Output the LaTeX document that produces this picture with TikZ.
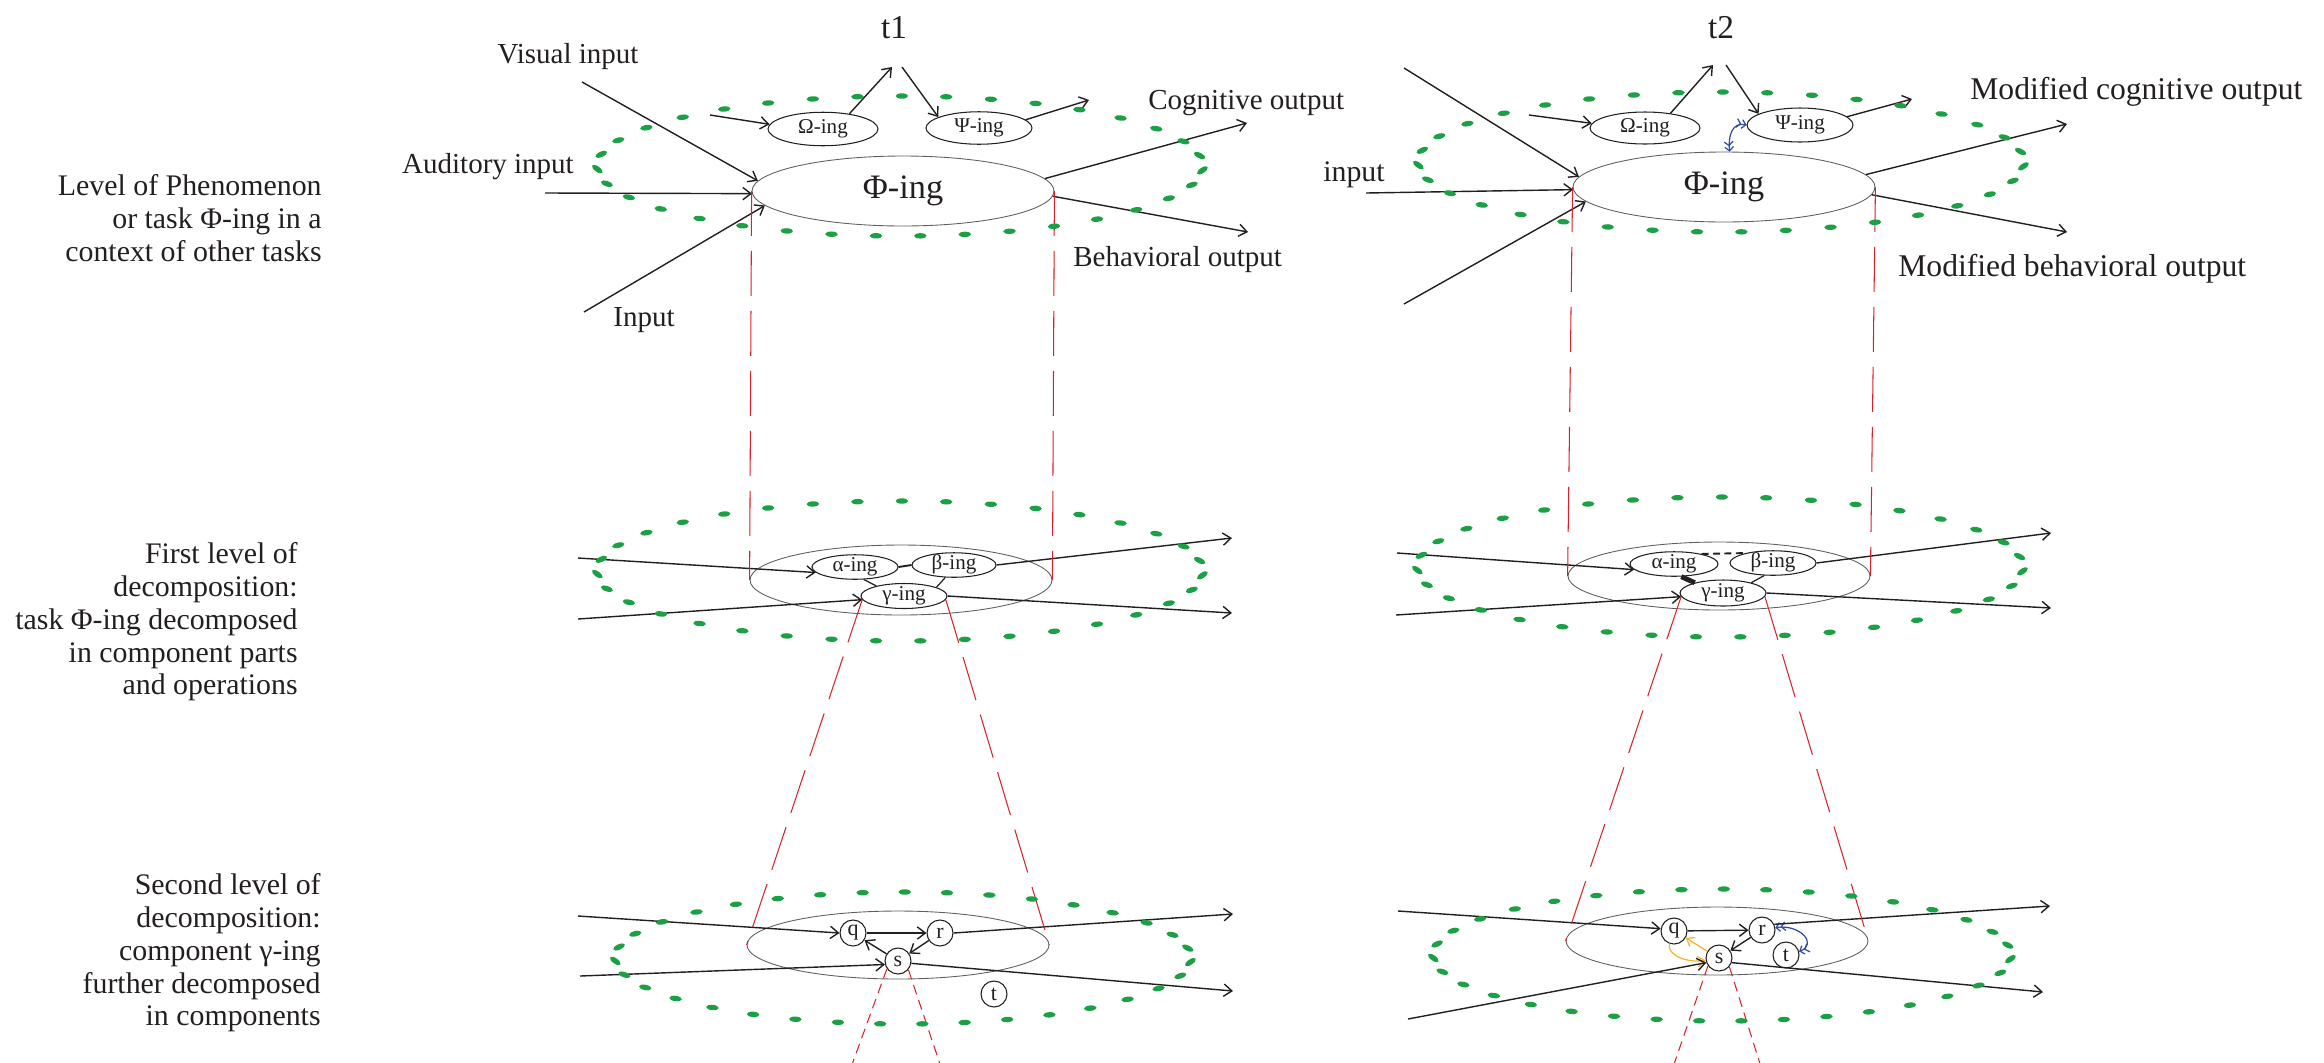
\documentclass[tikz,border=0pt]{standalone}
\usepackage{fontspec}
\setmainfont{Liberation Serif}
\usetikzlibrary{arrows.meta,shapes.geometric}

\definecolor{ink}{RGB}{35,31,32}
\definecolor{rimgray}{RGB}{95,95,95}
\definecolor{dotgreen}{RGB}{28,160,70}
\definecolor{cutred}{RGB}{214,35,45}
\definecolor{linkblue}{RGB}{45,75,170}
\definecolor{linkamber}{RGB}{247,178,52}

% ring of small green dashes around a level: centre (#1,#2), radii #3, #4
\newcommand\greenring[4]{%
  \foreach \k in {0,...,34}{%
    \pgfmathsetmacro\dotph{\k*360/35+3}%
    \pgfmathsetmacro\dotang{\dotph+5.3*sin(2*\dotph)}%
    \pgfmathsetmacro\dotrot{0.45*atan(#4*cos(\dotang)/(#3*sin(\dotang)+0.01))}%
    \fill[dotgreen, shift={({#1+#3*cos(\dotang)},{#2+#4*sin(\dotang)})}, rotate=\dotrot]
      (0,0) ellipse [x radius=6.3, y radius=2.7];
  }}

\begin{document}
\begin{tikzpicture}[x=0.02cm, y=-0.02cm,
  every node/.style={text=ink},
  side/.style={anchor=east, align=right, inner sep=0pt, font=\fontsize{17}{18.6}\selectfont},
  lbl/.style={inner sep=0pt, font=\fontsize{16.5}{18}\selectfont},
  biglbl/.style={inner sep=0pt, font=\fontsize{18}{20}\selectfont},
  timelbl/.style={inner sep=0pt, font=\fontsize{19}{20}\selectfont},
  task/.style={ellipse, draw=rimgray, line width=0.5pt, inner sep=0pt,
    minimum width=6.04cm, minimum height=1.4cm, font=\fontsize{19.5}{20}\selectfont},
  sub/.style={ellipse, draw=ink, line width=0.6pt, inner sep=0pt,
    text height=0.62em, text depth=0.14em, font=\fontsize{12}{12}\selectfont},
  wide/.style={sub, minimum width=2.2cm, minimum height=0.67cm},
  part/.style={sub, minimum width=1.72cm, minimum height=0.49cm},
  comp/.style={circle, draw=ink, line width=0.6pt, inner sep=0pt,
    minimum size=0.52cm, font=\fontsize{12.5}{12}\selectfont},
  arr/.style={draw=ink, line width=0.8pt, -{Straight Barb[length=4.6pt,width=7pt]}},
  link/.style={draw=ink, line width=0.7pt},
  cut/.style={draw=cutred, line width=0.6pt, dash pattern=on 0.9cm off 0.3cm},
  cutfine/.style={draw=cutred, line width=0.6pt, dash pattern=on 0.2cm off 0.12cm},
  bluearr/.style={draw=linkblue, line width=0.7pt,
    {Straight Barb[length=2.2pt,width=5pt]Straight Barb[length=2.2pt,width=5pt]}-{Straight Barb[length=2.2pt,width=5pt]Straight Barb[length=2.2pt,width=5pt]}},
  amberarr/.style={draw=linkamber, line width=0.7pt, -{Straight Barb[length=4pt,width=6pt]}}
]
\useasboundingbox (0,0) rectangle (2324,1062);

% ---------------- level captions ----------------
\node[side] (cap0) at (322,218) {Level of Phenomenon\\or task Φ-ing in a\\context of other tasks};
\node[side] (cap1) at (298,622) {First level of\\decomposition:\\task Φ-ing decomposed\\in component parts\\and operations};
\node[side] (cap2) at (321,953) {Second level of\\decomposition:\\component γ-ing\\further decomposed\\in components};

% =============== time t1 ===============
\node[timelbl] (timeA) at (894,28) {t1};
\node[task] (phiA) at (903,191) {Φ-ing};
\node[wide] (omA) at (823,129) {Ω-ing};
\node[wide, minimum width=2.12cm, minimum height=0.65cm] (psiA) at (979,128) {Ψ-ing};

\node[lbl] (visT) at (568,57) {Visual input};
\node[lbl] (audT) at (488,167) {Auditory input};
\node[lbl] (inpT) at (644,320) {Input};
\node[lbl, anchor=west] (cogT) at (1148,103) {Cognitive output};
\node[lbl, anchor=west] (behT) at (1073,260) {Behavioral output};

\coordinate (visA) at (582,82);
\coordinate (audA) at (545,193);
\coordinate (inA) at (584,312);
\coordinate (cogA) at (1247,123);
\coordinate (behA) at (1248,232);
\coordinate (tAin) at (892,67);
\coordinate (tAout) at (902,67);
\coordinate (omAin) at (710,115);
\coordinate (psiAout) at (1089,100);

\draw[arr] (visA) -- (phiA.176);
\draw[arr] (audA) -- (phiA.181);
\draw[arr] (inA) -- (phiA.186);
\draw[arr] (phiA.5) -- (cogA);
\draw[arr] (phiA.-2) -- (behA);
\draw[arr] (omA.30) -- (tAin);
\draw[arr] (tAout) -- (psiA.165);
\draw[arr] (omAin) -- (omA.175);
\draw[arr] (psiA.10) -- (psiAout);

% first level of decomposition, t1
\node[task, minimum height=1.4cm] (midA) at (901,580) {};
\node[part] (alA) at (855,567) {α-ing};
\node[part, minimum width=1.68cm] (beA) at (954,565) {β-ing};
\node[part, minimum height=0.5cm] (gaA) at (904,596) {γ-ing};

\coordinate (mAi1) at (578,558);
\coordinate (mAi2) at (578,619);
\coordinate (mAo1) at (1232,538);
\coordinate (mAo2) at (1232,613);

\draw[link, line width=1.1pt] (alA.east) -- (beA.west);
\draw[link] (alA.-55) -- (gaA.160);
\draw[link] (beA.-125) -- (gaA.15);
\draw[arr] (mAi1) -- (alA.188);
\draw[arr] (mAi2) -- (gaA.185);
\draw[arr] (beA.east) -- (mAo1);
\draw[arr] (gaA.east) -- (mAo2);

% second level of decomposition, t1
\node[task, minimum height=1.36cm] (botA) at (898,945) {};
\node[comp] (qA) at (853,933) {q};
\node[comp] (rA) at (940,933) {r};
\node[comp] (sA) at (898,961) {s};
\node[comp] (tcA) at (994,994) {t};

\coordinate (bAi1) at (578,916);
\coordinate (bAi2) at (580,976);
\coordinate (bAo1) at (1233,914);
\coordinate (bAo2) at (1233,991);
\coordinate (cutAl) at (850,1070);
\coordinate (cutAr) at (942,1070);

\draw[arr] (qA) -- (rA);
\draw[arr] (rA) -- (sA);
\draw[arr] (sA) -- (qA);
\draw[arr] (bAi1) -- (qA.west);
\draw[arr] (bAi2) -- (sA.195);
\draw[arr] (rA.east) -- (bAo1);
\draw[arr] (sA.-10) -- (bAo2);

% projection lines between levels, t1
\draw[cut] (phiA.west) -- (midA.west);
\draw[cut] (phiA.east) -- (midA.east);
\draw[cut] (gaA.185) -- (botA.west);
\draw[cut] (gaA.-5) -- (botA.east);
\draw[cutfine] (sA.215) -- (cutAl);
\draw[cutfine] (sA.-40) -- (cutAr);

% =============== time t2 ===============
\node[timelbl] (timeB) at (1721,28) {t2};
\node[task] (phiB) at (1724,187) {Φ-ing};
\node[wide, minimum height=0.64cm] (omB) at (1645,128) {Ω-ing};
\node[wide, minimum width=2.12cm, minimum height=0.68cm] (psiB) at (1800,125) {Ψ-ing};

\node[lbl, font=\fontsize{17}{18}\selectfont] (inT) at (1354,175) {input};
\node[biglbl, anchor=west] (mcogT) at (1970,92) {Modified cognitive output};
\node[biglbl, anchor=west] (mbehT) at (1898,269) {Modified behavioral output};

\coordinate (topB) at (1404,68);
\coordinate (audB) at (1366,193);
\coordinate (inB) at (1404,304);
\coordinate (cogB) at (2067,124);
\coordinate (behB) at (2067,232);
\coordinate (tBin) at (1713,65);
\coordinate (tBout) at (1726,65);
\coordinate (omBin) at (1529,115);
\coordinate (psiBout) at (1912,99);

\draw[arr] (topB) -- (phiB.176);
\draw[arr] (audB) -- (phiB.181);
\draw[arr] (inB) -- (phiB.186);
\draw[arr] (phiB.5) -- (cogB);
\draw[arr] (phiB.-3) -- (behB);
\draw[arr] (omB.30) -- (tBin);
\draw[arr] (tBout) -- (psiB.165);
\draw[arr] (omBin) -- (omB.175);
\draw[arr] (psiB.10) -- (psiBout);
\draw[bluearr] (psiB.west) .. controls (1732,122) and (1728,136) .. (phiB.81);

% first level of decomposition, t2
\node[task, minimum height=1.36cm] (midB) at (1719,576) {};
\node[part, minimum width=1.76cm] (alB) at (1674,564) {α-ing};
\node[part] (beB) at (1773,563) {β-ing};
\node[part, minimum height=0.52cm] (gaB) at (1723,593) {γ-ing};

\coordinate (mBi1) at (1397,553);
\coordinate (mBi2) at (1396,615);
\coordinate (mBo1) at (2051,533);
\coordinate (mBo2) at (2051,608);

\draw[link, line width=1.1pt, dash pattern=on 4pt off 2.5pt] (alB.20) -- (beB.160);
\draw[link, line width=2.8pt] (alB.-60) -- (gaB.160);
\draw[link] (beB.-125) -- (gaB.20);
\draw[arr] (mBi1) -- (alB.188);
\draw[arr] (mBi2) -- (gaB.185);
\draw[arr] (beB.east) -- (mBo1);
\draw[arr] (gaB.east) -- (mBo2);

% second level of decomposition, t2
\node[task, minimum height=1.36cm] (botB) at (1717,941) {};
\node[comp] (qB) at (1674,931) {q};
\node[comp] (rB) at (1762,930) {r};
\node[comp] (sB) at (1719,958) {s};
\node[comp] (tcB) at (1786,955) {t};

\coordinate (bBi1) at (1398,911);
\coordinate (bBi2) at (1408,1019);
\coordinate (bBo1) at (2050,906);
\coordinate (bBo2) at (2043,992);
\coordinate (cutBl) at (1672,1070);
\coordinate (cutBr) at (1762,1070);

\draw[arr] (qB) -- (rB);
\draw[arr] (rB) -- (sB);
\draw[amberarr] (sB.150) -- (qB.-30);
\draw[amberarr] (qB.250) .. controls (1667,956) and (1688,963) .. (sB.190);
\draw[bluearr] (rB.10) .. controls (1800,924) and (1818,944) .. (tcB.15);
\draw[arr] (bBi1) -- (qB.170);
\draw[arr] (bBi2) -- (sB.200);
\draw[arr] (rB.25) -- (bBo1);
\draw[arr] (sB.-20) -- (bBo2);

% projection lines between levels, t2
\draw[cut] (phiB.west) -- (midB.west);
\draw[cut] (phiB.east) -- (midB.east);
\draw[cut] (gaB.185) -- (botB.west);
\draw[cut] (gaB.-5) -- (botB.east);
\draw[cutfine] (sB.215) -- (cutBl);
\draw[cutfine] (sB.-40) -- (cutBr);

% ---------------- dotted context rings ----------------
\greenring{900}{166}{303}{70}
\greenring{1721}{162}{303}{70}
\greenring{900}{571}{303}{70}
\greenring{1720}{567}{303}{70}
\greenring{903}{958}{288}{66}
\greenring{1722}{955}{289}{66}
\end{tikzpicture}
\end{document}
